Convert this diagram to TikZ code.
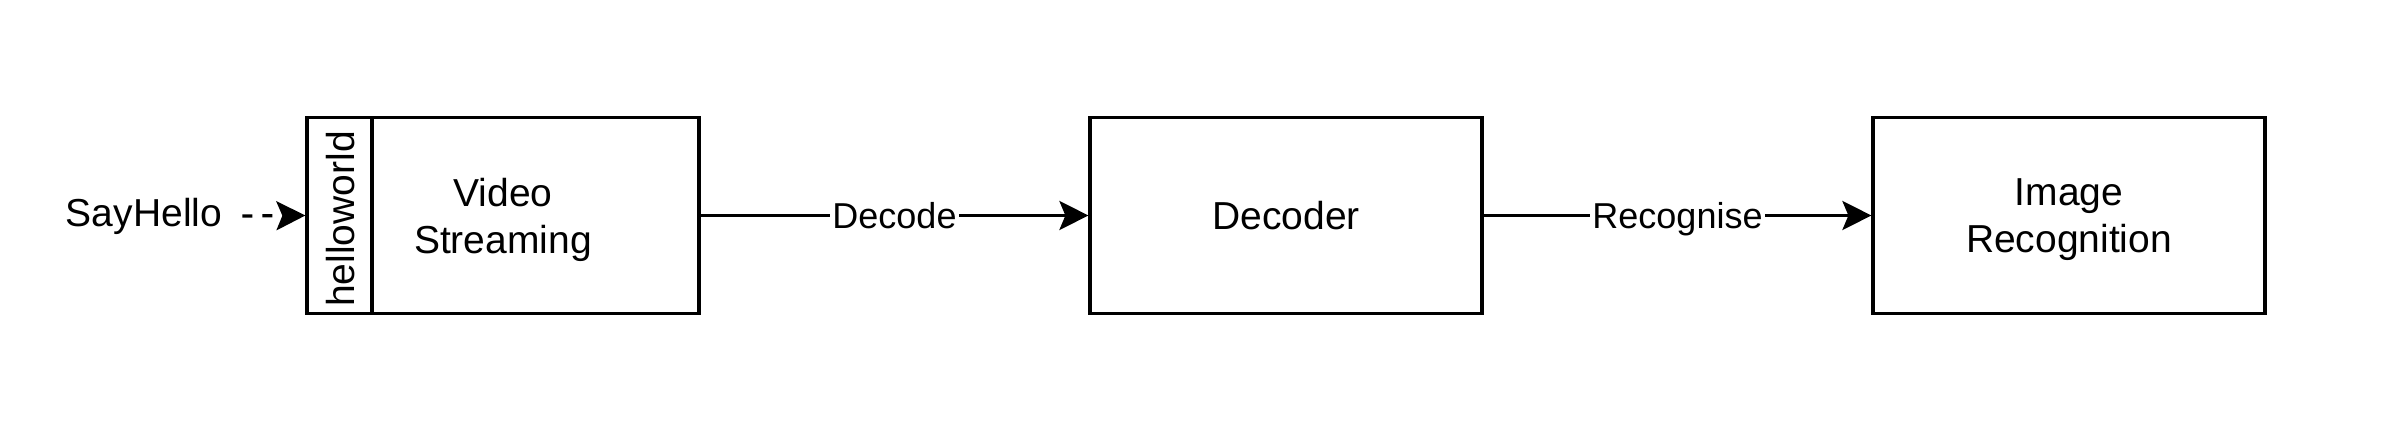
\documentclass[tikz,border=0pt]{standalone}
\usepackage{fontspec}
\setmainfont{Liberation Sans}
\usetikzlibrary{arrows.meta}
\begin{document}
\begin{tikzpicture}[x=0.5pt,y=-0.5pt,
  box/.style={draw=black, line width=1.6pt, minimum width=196pt, minimum height=98pt, inner sep=0pt},
  txt/.style={inner sep=0pt, align=center, font=\fontsize{19.5}{23.5}\selectfont},
  elabel/.style={fill=white, inner xsep=1pt, inner ysep=1pt, text height=13pt, text depth=0pt, font=\fontsize{18}{21}\selectfont},
  conn/.style={line width=1.6pt, -{Stealth[length=14.5pt, width=14.5pt, inset=3pt]}}
]
\useasboundingbox (0,0) rectangle (2397,442);
\node[box] (vs) at (503,215.5) {};
\node[box] (dec) at (1286,215.5) {};
\node[box] (ir) at (2069,215.5) {};
\node[txt] (vst) at ([yshift=-2pt]vs.center) {Video\\Streaming};
\node[txt] (dect) at (dec.center) {Decoder};
\node[txt] (irt) at ([yshift=-2pt]ir.center) {Image\\Recognition};
\coordinate (dtop) at (372,117.5);
\coordinate (dbot) at (372,313.5);
\draw[line width=1.6pt] (dtop) -- (dbot);
\node[txt, rotate=90] (hw) at (341,219) {helloworld};
\node[txt, inner xsep=10pt] (say) at (144,216) {SayHello};
\draw[conn, dash pattern=on 5pt off 5pt] (say.east) -- (vs.west);
\draw[conn] (vs.east) -- node[elabel] {Decode} (dec.west);
\draw[conn] (dec.east) -- node[elabel] {Recognise} (ir.west);
\end{tikzpicture}
\end{document}
